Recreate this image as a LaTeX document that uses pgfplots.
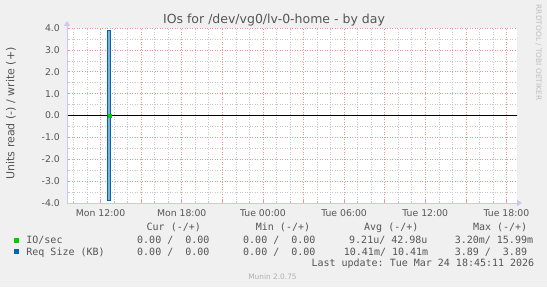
\documentclass[border=0pt]{standalone}
\usepackage{pgfplots}
\pgfplotsset{compat=1.18}
\usepackage{fontspec}
\setmainfont{DejaVu Sans}
\newfontfamily\monof{DejaVu Sans Mono}
\usetikzlibrary{arrows.meta}
\definecolor{bgc}{HTML}{F0F0F0}
\definecolor{majg}{RGB}{235,150,150}
\definecolor{ming}{RGB}{200,200,200}
\definecolor{axc}{RGB}{200,200,242}
\definecolor{mgreen}{HTML}{00CC00}
\definecolor{mblue}{HTML}{0066B3}
\definecolor{txt}{HTML}{555555}
\frenchspacing
\begin{document}
\begin{tikzpicture}[x=1pt,y=1pt]
\fill[bgc] (0,0) rectangle (547,287);
\begin{axis}[
  at={(67pt,84pt)}, anchor=south west,
  scale only axis, width=450pt, height=175pt,
  xmin=9.52, xmax=42.78, ymin=-4, ymax=4,
  axis background/.style={fill=white},
  axis line style={draw=none},
  tick pos=left,
  xtick={12,15,...,42},
  xticklabels={Mon 12:00,,Mon 18:00,,Tue 00:00,,Tue 06:00,,Tue 12:00,,Tue 18:00},
  minor xtick={10,11,...,42},
  ytick={-4,-3,...,4},
  minor ytick={-3.5,-2.5,...,3.5},
  grid=both,
  major grid style={draw=majg, dash pattern=on 1pt off 1.5pt, line width=0.6pt},
  minor grid style={draw=ming, dash pattern=on 1pt off 1.5pt, line width=0.6pt},
  tick align=inside,
  major tick length=3pt, minor tick length=2pt,
  every major tick/.style={draw=majg, line width=0.6pt},
  every minor tick/.style={draw=ming, line width=0.6pt},
  tick label style={font=\fontsize{9.3}{10}\selectfont, text=txt},
  yticklabel style={anchor=east, inner sep=0pt, xshift=-7pt},
  xticklabel style={anchor=north, inner sep=0pt, yshift=-6pt},
  /pgf/number format/assume math mode=true,
  yticklabel={\pgfmathprintnumber[fixed,fixed zerofill,precision=1]{\tick}},
  clip=true,
]
% IO/sec (green), read negative / write positive
\addplot[mgreen, line width=0.8pt] coordinates {(9.52,0) (12.5,0) (12.6,0.016) (12.7,0) (42.78,0)};
\addplot[mgreen, line width=0.8pt] coordinates {(9.52,0) (12.5,0) (12.6,-0.0032) (12.7,0) (42.78,0)};
% zero rule
\addplot[black, line width=0.9pt] coordinates {(9.52,0) (42.78,0)};
% Req Size (KB)
\addplot[draw=mblue, fill=mblue!50!white, line width=0.6pt] coordinates {(12.52,0) (12.52,3.89) (12.7,3.89) (12.7,0)};
\addplot[draw=mblue, fill=mblue!50!white, line width=0.6pt] coordinates {(12.52,0) (12.52,-3.89) (12.7,-3.89) (12.7,0)};
\addplot[only marks, mark=square*, mark size=1.5pt, mgreen] coordinates {(12.69,0)};
\end{axis}
% axis lines with arrows
\draw[axc, line width=0.9pt, -{Triangle[width=6pt,length=5pt]}] (67,84) -- (67,266);
\draw[axc, line width=0.9pt, -{Triangle[width=6pt,length=5pt]}] (67,84) -- (522,84);
% title and labels
\node[text=txt, font=\fontsize{12.5}{14}\selectfont] at (274,266.8) {IOs for /dev/vg0/lv-0-home - by day};
\node[text=txt, rotate=90, font=\fontsize{11}{12}\selectfont] at (11,173.5) {Units read (-) / write (+)};
\node[text={rgb,255:red,190;green,190;blue,190}, rotate=-90, font=\fontsize{7.4}{8}\selectfont] at (538.5,234.5) {RRDTOOL / TOBI OETIKER};
% legend
\begin{scope}[every node/.style={inner sep=0pt, anchor=base west, text=txt, font=\monof\fontsize{10}{11}\selectfont}]
\node at (146.5,56.9) {Cur (-/+)};
\node at (255.7,56.9) {Min (-/+)};
\node at (364,56.9) {Avg (-/+)};
\node at (472.8,56.9) {Max (-/+)};
\fill[mgreen] (14,44.5) rectangle (19,49.5);
\node at (26.2,43.9) {IO/sec};
\node at (137,43.9) {0.00 /\ \ 0.00};
\node at (243,43.9) {0.00 /\ \ 0.00};
\node at (349,43.9) {9.21u/ 42.98u};
\node at (454.6,43.9) {3.20m/ 15.99m};
\fill[mblue] (14,33) rectangle (19,38);
\node at (26.2,31.9) {Req Size (KB)};
\node at (137,31.9) {0.00 /\ \ 0.00};
\node at (243,31.9) {0.00 /\ \ 0.00};
\node at (343.7,31.9) {10.41m/ 10.41m};
\node at (454.6,31.9) {3.89 /\ \ 3.89};
\node at (311.3,20.1) {Last update: Tue Mar 24 18:45:11 2026};
\end{scope}
\node[text={rgb,255:red,176;green,176;blue,176}, font=\fontsize{7.4}{8}\selectfont] at (272.5,10.7) {Munin 2.0.75};
\end{tikzpicture}
\end{document}
